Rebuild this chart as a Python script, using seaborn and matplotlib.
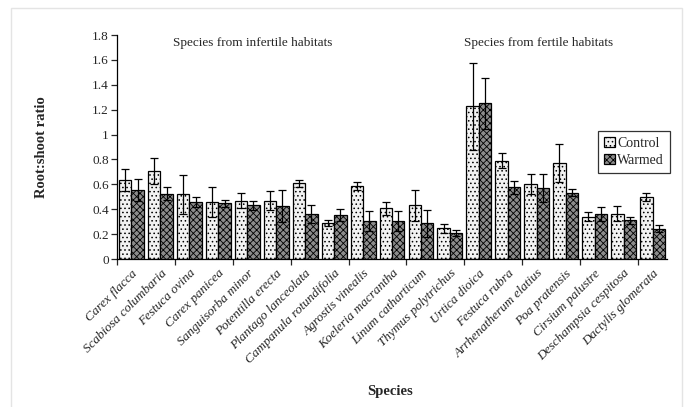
import numpy as np
import pandas as pd
import matplotlib
matplotlib.use("Agg")
import matplotlib.pyplot as plt
import seaborn as sns
from matplotlib.patches import Rectangle
from matplotlib.ticker import FixedLocator

species = ["Carex flacca", "Scabiosa columbaria", "Festuca ovina", "Carex panicea",
           "Sanguisorba minor", "Potentilla erecta", "Plantago lanceolata",
           "Campanula rotundifolia", "Agrostis vinealis", "Koeleria macrantha",
           "Linum catharticum", "Thymus polytrichus", "Urtica dioica", "Festuca rubra",
           "Arrhenatherum elatius", "Poa pratensis", "Cirsium palustre",
           "Deschampsia cespitosa", "Dactylis glomerata"]
control = [0.635, 0.71, 0.52, 0.46, 0.47, 0.47, 0.608, 0.292, 0.587, 0.407,
           0.431, 0.246, 1.229, 0.788, 0.603, 0.771, 0.34, 0.362, 0.50]
control_err = [0.09, 0.105, 0.155, 0.12, 0.06, 0.08, 0.03, 0.025, 0.03, 0.055,
               0.125, 0.035, 0.35, 0.06, 0.08, 0.15, 0.035, 0.06, 0.03]
warmed = [0.555, 0.525, 0.46, 0.447, 0.43, 0.425, 0.362, 0.354, 0.303, 0.303,
          0.287, 0.206, 1.25, 0.576, 0.57, 0.533, 0.362, 0.31, 0.244]
warmed_err = [0.09, 0.05, 0.04, 0.03, 0.035, 0.13, 0.07, 0.045, 0.08, 0.08,
              0.11, 0.025, 0.205, 0.05, 0.11, 0.03, 0.055, 0.03, 0.03]
treatments = ["Control", "Warmed"]
yticks = [0, 0.2, 0.4, 0.6, 0.8, 1.0, 1.2, 1.4, 1.6, 1.8]
ytick_labels = ["0", "0.2", "0.4", "0.6", "0.8", "1", "1.2", "1.4", "1.6", "1.8"]

df = pd.DataFrame({
    "Species": species * 2,
    "Treatment": ["Control"] * len(species) + ["Warmed"] * len(species),
    "Ratio": control + warmed,
    "Err": control_err + warmed_err,
})

sns.set_style("white")
plt.rcParams["font.family"] = ["Liberation Serif", "DejaVu Serif"]
plt.rcParams["hatch.linewidth"] = 0.6

fig = plt.figure(figsize=(6.86, 4.07), dpi=100)
ax = fig.add_axes([117 / 686, 1 - 259 / 407, 550 / 686, 224 / 407])

face = {"Control": "#f2f2f2", "Warmed": "#8c8c8c"}
hatch = {"Control": "....", "Warmed": "xxxxx"}
sns.barplot(data=df, x="Species", y="Ratio", hue="Treatment", order=species,
            hue_order=treatments, palette=face, errorbar=None, width=0.86,
            gap=0, edgecolor="black", linewidth=0.9, ax=ax, legend=True)

# hatches + error bars
conts = ax.containers
for cont, t in zip(conts, treatments):
    sub = df[df.Treatment == t].set_index("Species").loc[species]
    xs, ys = [], []
    for bar in cont:
        bar.set_hatch(hatch[t])
        xs.append(bar.get_x() + bar.get_width() / 2)
        ys.append(bar.get_height())
    ax.errorbar(xs, ys, yerr=sub["Err"].values, fmt="none", ecolor="black",
                elinewidth=0.9, capsize=3, capthick=0.9, zorder=5)

ax.set_xlim(-0.5, len(species) - 0.5)
ax.set_ylim(0, 1.8)
ax.set_yticks(yticks)
ax.set_yticklabels(ytick_labels, fontsize=9.5)
ax.tick_params(axis="y", direction="out", length=4, width=0.9, left=True, pad=2)

ax.set_xticks(range(len(species)))
ax.set_xticklabels(species, rotation=45, ha="right", rotation_mode="anchor",
                   fontsize=9.5, style="italic")
ax.tick_params(axis="x", which="major", length=0, pad=6)
ax.xaxis.set_minor_locator(FixedLocator(np.arange(-0.5, len(species) - 1, 2)))
ax.tick_params(axis="x", which="minor", bottom=True, direction="out", length=4, width=0.9)

for s in ["top", "right"]:
    ax.spines[s].set_visible(False)
for s in ["left", "bottom"]:
    ax.spines[s].set_color("black")
    ax.spines[s].set_linewidth(0.9)

ax.set_ylabel("Root:shoot ratio", fontsize=10.5, fontweight="bold", labelpad=0)
ax.yaxis.set_label_coords(-0.125, 0.5)
ax.set_xlabel("")
fig.text(390 / 686, 1 - 392 / 407, "Species", ha="center", va="center",
         fontsize=10.5, fontweight="bold")

ax.text(253 / 686, 1 - 43 / 407, "Species from infertile habitats", transform=fig.transFigure,
        ha="center", va="center", fontsize=9.5)
ax.text(539 / 686, 1 - 43 / 407, "Species from fertile habitats", transform=fig.transFigure,
        ha="center", va="center", fontsize=9.5)

leg = ax.legend(loc="upper left", bbox_to_anchor=(598 / 686, 1 - 131 / 407),
                bbox_transform=fig.transFigure, frameon=True, fancybox=False,
                fontsize=10, handlelength=0.8, handleheight=0.8, handletextpad=0.2,
                borderpad=0.4, labelspacing=0.3, borderaxespad=0)
leg.get_frame().set_edgecolor("black")
leg.get_frame().set_linewidth(0.9)
for h, t in zip(leg.legend_handles, treatments):
    h.set_hatch(hatch[t])
    h.set_edgecolor("black")

fig.patches.append(Rectangle((11 / 686, -0.05), 671 / 686, 1.05 - 8 / 407,
                             transform=fig.transFigure, fill=False,
                             edgecolor="#e4e4e4", linewidth=1.0))

fig.savefig("out.png", dpi=100)
